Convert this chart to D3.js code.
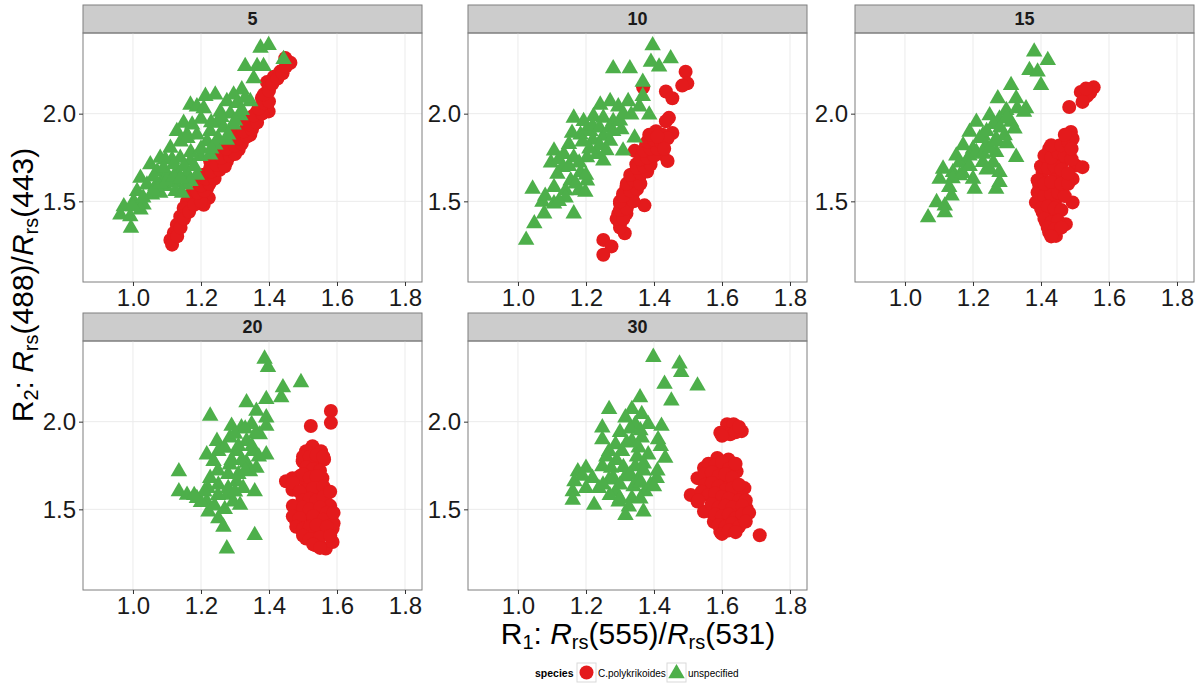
<!DOCTYPE html>
<html>
<head>
<meta charset="utf-8">
<script src="https://cdn.jsdelivr.net/npm/d3@7"></script>
<style>
  body { margin: 0; background: #fff; }
  text { font-family: "Liberation Sans", Arial, sans-serif; }
</style>
</head>
<body>
<div id="chart"></div>
<script>
// facet labels and ticks
var panels = ["5", "10", "15", "20", "30"];
var species = ["C.polykrikoides", "unspecified"];
var xTicks = [1.0, 1.2, 1.4, 1.6, 1.8];
var yTicks = [1.5, 2.0];

// C.polykrikoides (red circles), [R1, R2]
var cp5 = [[1.448,2.317],[1.463,2.29],[1.433,2.24],[1.414,2.21],[1.394,2.18],[1.399,2.146],[1.379,2.09],
  [1.394,2.04],[1.399,2.013],[1.365,2.013],[1.345,1.975],[1.33,1.956],[1.355,1.956],[1.335,1.918],[1.345,1.88],
  [1.32,1.88],[1.296,1.899],[1.306,1.842],[1.262,1.823],[1.286,1.804],[1.311,1.795],[1.267,1.785],[1.247,1.747],
  [1.276,1.728],[1.227,1.728],[1.227,1.69],[1.208,1.652],[1.237,1.652],[1.198,1.614],[1.218,1.576],[1.188,1.557],
  [1.169,1.538],[1.223,1.52],[1.208,1.48],[1.159,1.5],[1.149,1.462],[1.139,1.414],[1.129,1.367],[1.12,1.32],
  [1.11,1.28],[1.115,1.253],
  [1.13,1.3],[1.14,1.35],[1.15,1.4],[1.165,1.44],[1.18,1.48],[1.2,1.5],[1.19,1.55],[1.21,1.56],[1.2,1.59],
  [1.225,1.6],[1.215,1.63],[1.24,1.63],[1.23,1.67],[1.255,1.68],[1.245,1.71],[1.27,1.7],[1.26,1.75],[1.285,1.76],
  [1.3,1.77],[1.275,1.8],[1.3,1.82],[1.32,1.83],[1.31,1.86],[1.335,1.87],[1.325,1.9],[1.35,1.91],[1.34,1.94],
  [1.365,1.95],[1.355,1.99],[1.38,2.0],[1.37,2.03],[1.385,2.06],[1.4,2.07],[1.385,2.11],[1.4,2.13],[1.41,2.17],
  [1.425,2.2],[1.44,2.23],[1.45,2.27]];
var cp10 = [[1.493,2.239],[1.498,2.173],[1.483,2.16],[1.435,2.126],[1.454,2.088],[1.444,1.976],[1.435,1.957],
  [1.454,1.89],[1.386,1.88],[1.406,1.9],[1.425,1.88],[1.377,1.825],[1.425,1.769],[1.415,1.825],[1.343,1.788],
  [1.367,1.769],[1.348,1.712],[1.386,1.731],[1.338,1.656],[1.329,1.618],[1.357,1.637],[1.348,1.6],[1.319,1.58],
  [1.309,1.543],[1.338,1.543],[1.329,1.506],[1.3,1.487],[1.372,1.477],[1.295,1.43],[1.319,1.43],[1.3,1.374],
  [1.314,1.318],[1.251,1.28],[1.275,1.243],[1.251,1.195],[1.368,2.15],
  [1.3,1.35],[1.29,1.4],[1.31,1.4],[1.3,1.45],[1.32,1.46],[1.3,1.5],[1.34,1.5],[1.31,1.53],[1.33,1.56],
  [1.35,1.57],[1.32,1.6],[1.34,1.62],[1.36,1.6],[1.33,1.65],[1.36,1.66],[1.38,1.67],[1.35,1.69],[1.37,1.7],
  [1.39,1.71],[1.36,1.74],[1.38,1.75],[1.4,1.76],[1.37,1.79],[1.39,1.8],[1.41,1.8],[1.38,1.84],[1.4,1.85],
  [1.42,1.84],[1.44,1.86],[1.39,1.88],[1.41,1.87],[1.44,1.73],[1.43,1.8]];
var cp15 = [[1.555,2.15],[1.545,2.12],[1.535,2.1],[1.517,2.124],[1.532,2.143],[1.522,2.067],[1.483,2.038],
  [1.488,1.895],[1.493,1.857],[1.473,1.819],[1.454,1.819],[1.424,1.8],[1.444,1.761],[1.415,1.742],[1.463,1.723],
  [1.502,1.704],[1.522,1.695],[1.434,1.685],[1.405,1.666],[1.444,1.647],[1.493,1.628],[1.395,1.59],[1.4,1.59],
  [1.424,1.571],[1.463,1.571],[1.385,1.494],[1.415,1.494],[1.444,1.513],[1.493,1.494],[1.405,1.437],[1.434,1.418],
  [1.415,1.38],[1.473,1.37],[1.424,1.323],[1.444,1.303],
  [1.39,1.55],[1.41,1.53],[1.43,1.54],[1.45,1.55],[1.47,1.53],[1.39,1.62],[1.41,1.6],[1.43,1.61],[1.46,1.6],
  [1.48,1.6],[1.4,1.7],[1.42,1.69],[1.44,1.7],[1.46,1.68],[1.48,1.66],[1.41,1.76],[1.43,1.75],[1.45,1.78],
  [1.47,1.76],[1.49,1.74],[1.43,1.82],[1.46,1.82],[1.48,1.84],[1.47,1.88],[1.49,1.8],[1.4,1.46],[1.42,1.47],
  [1.44,1.46],[1.46,1.45],[1.41,1.4],[1.43,1.38],[1.45,1.39],[1.42,1.35],[1.44,1.34],[1.46,1.35],[1.43,1.3]];
var cp20 = [[1.582,2.061],[1.582,1.994],[1.523,1.975],[1.528,1.86],[1.509,1.831],[1.553,1.831],[1.499,1.774],
  [1.538,1.755],[1.562,1.784],[1.469,1.678],[1.49,1.688],[1.469,1.611],[1.518,1.716],[1.557,1.678],[1.509,1.64],
  [1.499,1.678],[1.547,1.602],[1.499,1.563],[1.567,1.544],[1.49,1.487],[1.48,1.429],[1.509,1.467],[1.538,1.506],
  [1.582,1.448],[1.587,1.391],[1.548,1.372],[1.509,1.333],[1.538,1.295],[1.567,1.276],[1.587,1.314],[1.499,1.372],
  [1.528,1.429],
  [1.5,1.8],[1.52,1.8],[1.54,1.81],[1.56,1.8],[1.51,1.74],[1.53,1.73],[1.55,1.72],[1.5,1.7],[1.52,1.68],
  [1.54,1.69],[1.45,1.66],[1.47,1.65],[1.51,1.61],[1.53,1.62],[1.56,1.63],[1.49,1.6],[1.5,1.55],[1.52,1.56],
  [1.54,1.55],[1.56,1.57],[1.58,1.52],[1.47,1.52],[1.5,1.51],[1.52,1.5],[1.55,1.51],[1.57,1.48],[1.47,1.46],
  [1.49,1.45],[1.53,1.46],[1.56,1.44],[1.59,1.42],[1.48,1.4],[1.5,1.39],[1.52,1.4],[1.54,1.41],[1.57,1.4],
  [1.5,1.35],[1.52,1.33],[1.55,1.34],[1.58,1.35],[1.53,1.3],[1.55,1.28],[1.59,1.48],[1.58,1.6]];
var cp30 = [[1.615,1.985],[1.634,1.985],[1.658,1.946],[1.595,1.937],[1.624,1.928],[1.547,1.736],[1.586,1.793],
  [1.619,1.784],[1.643,1.716],[1.528,1.678],[1.566,1.678],[1.605,1.716],[1.576,1.621],[1.615,1.64],[1.666,1.621],
  [1.508,1.582],[1.528,1.544],[1.586,1.563],[1.624,1.544],[1.643,1.582],[1.566,1.487],[1.605,1.487],[1.643,1.487],
  [1.672,1.506],[1.547,1.487],[1.576,1.429],[1.595,1.448],[1.595,1.372],[1.624,1.41],[1.663,1.429],[1.711,1.352],
  [1.56,1.76],[1.58,1.75],[1.6,1.77],[1.62,1.73],[1.64,1.76],[1.55,1.7],[1.57,1.71],[1.59,1.69],[1.61,1.7],
  [1.63,1.68],[1.55,1.64],[1.57,1.65],[1.59,1.63],[1.61,1.61],[1.63,1.62],[1.65,1.64],[1.54,1.6],[1.56,1.58],
  [1.58,1.59],[1.6,1.57],[1.62,1.56],[1.65,1.55],[1.67,1.55],[1.53,1.55],[1.57,1.53],[1.59,1.51],[1.61,1.52],
  [1.63,1.51],[1.66,1.52],[1.58,1.47],[1.6,1.46],[1.62,1.47],[1.64,1.45],[1.66,1.47],[1.68,1.48],[1.59,1.41],
  [1.61,1.4],[1.63,1.42],[1.65,1.4],[1.67,1.43],[1.6,1.36],[1.62,1.38],[1.64,1.37],[1.64,1.94],[1.6,1.92],[1.65,1.97]];

// unspecified (green triangles), [R1, R2]
var un5 = [[1.399,2.39],[1.375,2.375],[1.443,2.31],[1.33,2.27],[1.365,2.27],[1.384,2.27],[1.355,2.2],
  [1.32,2.137],[1.296,2.108],[1.213,2.1],[1.242,2.108],[1.169,2.05],[1.188,2.04],[1.208,2.03],[1.276,2.07],
  [1.306,2.06],[1.345,2.07],[1.257,2.01],[1.286,2.0],[1.316,1.99],[1.149,1.947],[1.174,1.937],[1.129,1.9],
  [1.159,1.88],[1.188,1.88],[1.227,1.9],[1.247,1.947],[1.267,1.92],[1.296,1.937],[1.218,1.842],[1.242,1.823],
  [1.276,1.85],[1.11,1.804],[1.08,1.747],[1.115,1.738],[1.139,1.747],[1.095,1.738],[1.169,1.73],[1.198,1.757],
  [1.227,1.766],[1.051,1.71],[1.071,1.67],[1.1,1.65],[1.129,1.67],[1.159,1.66],[1.188,1.65],[1.022,1.633],
  [1.041,1.595],[1.066,1.586],[1.095,1.586],[1.125,1.605],[1.155,1.595],[1.169,1.614],[1.012,1.557],[1.056,1.538],
  [1.08,1.548],[1.125,1.557],[1.144,1.548],[0.973,1.47],[1.002,1.5],[1.031,1.48],[0.963,1.424],[0.992,1.414],
  [1.022,1.452],[0.994,1.348],
  [1.0,1.47],[1.03,1.52],[1.06,1.56],[1.08,1.6],[1.1,1.62],[1.12,1.64],[1.14,1.63],[1.06,1.64],[1.09,1.69],
  [1.12,1.71],[1.15,1.7],[1.18,1.7],[1.17,1.78],[1.2,1.8],[1.23,1.8],[1.25,1.86],[1.28,1.88],[1.3,1.96],
  [1.32,2.02],[1.33,2.09],[1.2,1.97],[1.26,1.98],[1.23,1.95],[1.14,1.84],[1.16,1.86]];
var un10 = [[1.396,2.389],[1.28,2.258],[1.329,2.258],[1.391,2.295],[1.415,2.267],[1.449,2.314],[1.367,2.18],
  [1.367,2.1],[1.242,2.05],[1.271,2.07],[1.295,2.04],[1.324,2.07],[1.357,2.04],[1.386,1.994],[1.333,1.994],
  [1.164,1.976],[1.193,1.957],[1.222,1.985],[1.251,1.976],[1.28,1.957],[1.304,1.91],[1.159,1.89],[1.184,1.88],
  [1.213,1.9],[1.251,1.872],[1.271,1.844],[1.343,1.863],[1.309,1.788],[1.15,1.825],[1.106,1.788],[1.135,1.769],
  [1.097,1.72],[1.13,1.694],[1.164,1.75],[1.203,1.75],[1.251,1.731],[1.232,1.769],[1.184,1.665],[1.203,1.618],
  [1.155,1.618],[1.116,1.656],[1.106,1.58],[1.14,1.562],[1.179,1.562],[1.198,1.553],[1.043,1.571],[1.072,1.496],
  [1.106,1.487],[1.077,1.43],[1.164,1.43],[1.048,1.374],[1.024,1.28],
  [1.2,1.9],[1.22,1.93],[1.24,1.92],[1.27,1.92],[1.19,1.84],[1.22,1.85],[1.24,1.82],[1.28,1.9],[1.3,1.96],
  [1.31,2.0],[1.18,1.72],[1.15,1.7],[1.12,1.74],[1.2,1.65],[1.17,1.6],[1.14,1.52],[1.12,1.5],[1.08,1.53],
  [1.21,1.8],[1.26,1.79]];
var un15 = [[1.38,2.353],[1.42,2.305],[1.366,2.248],[1.39,2.239],[1.4,2.162],[1.312,2.162],[1.273,2.086],
  [1.327,2.086],[1.356,2.029],[1.298,2.019],[1.249,1.99],[1.21,1.952],[1.278,1.971],[1.312,1.952],[1.322,1.914],
  [1.19,1.895],[1.229,1.876],[1.268,1.857],[1.293,1.876],[1.171,1.819],[1.2,1.8],[1.239,1.819],[1.268,1.78],
  [1.327,1.752],[1.151,1.76],[1.18,1.723],[1.229,1.723],[1.112,1.685],[1.141,1.666],[1.161,1.647],[1.2,1.628],
  [1.249,1.685],[1.278,1.666],[1.102,1.628],[1.205,1.571],[1.268,1.571],[1.278,1.609],[1.137,1.532],[1.093,1.494],
  [1.117,1.475],[1.117,1.437],[1.068,1.408],
  [1.16,1.72],[1.19,1.76],[1.21,1.78],[1.23,1.77],[1.25,1.8],[1.22,1.86],[1.24,1.9],[1.26,1.94],[1.28,1.92],
  [1.3,1.98],[1.33,2.03],[1.35,2.01],[1.27,1.84],[1.3,1.83],[1.14,1.63],[1.17,1.66],[1.13,1.58],[1.26,1.72],
  [1.24,1.68],[1.19,1.7]];
var un20 = [[1.387,2.358],[1.397,2.31],[1.441,2.195],[1.494,2.224],[1.436,2.138],[1.334,2.109],[1.392,2.128],
  [1.227,2.033],[1.363,2.061],[1.392,2.023],[1.29,1.975],[1.319,1.966],[1.349,1.985],[1.392,1.975],[1.247,1.889],
  [1.285,1.908],[1.334,1.889],[1.373,1.927],[1.217,1.812],[1.251,1.831],[1.305,1.831],[1.353,1.831],[1.392,1.812],
  [1.237,1.774],[1.285,1.755],[1.334,1.764],[1.363,1.736],[1.344,1.716],[1.135,1.716],[1.227,1.678],[1.251,1.64],
  [1.305,1.659],[1.324,1.621],[1.358,1.602],[1.135,1.602],[1.159,1.582],[1.188,1.563],[1.217,1.544],[1.276,1.582],
  [1.295,1.544],[1.315,1.525],[1.222,1.487],[1.251,1.448],[1.266,1.4],[1.358,1.352],[1.276,1.276],
  [1.3,1.93],[1.33,1.96],[1.36,1.93],[1.27,1.85],[1.31,1.86],[1.35,1.86],[1.37,1.8],[1.29,1.78],[1.32,1.78],
  [1.25,1.72],[1.28,1.7],[1.31,1.7],[1.33,1.72],[1.22,1.62],[1.25,1.58],[1.28,1.62],[1.3,1.6],[1.2,1.54],
  [1.24,1.52],[1.27,1.5],[1.21,1.6],[1.18,1.58]];
var un30 = [[1.398,2.368],[1.475,2.33],[1.48,2.282],[1.431,2.215],[1.528,2.205],[1.451,2.119],[1.268,2.071],
  [1.359,2.138],[1.335,2.071],[1.316,2.023],[1.364,2.042],[1.383,1.985],[1.248,1.966],[1.345,1.985],[1.422,1.975],
  [1.248,1.898],[1.287,1.87],[1.335,1.889],[1.364,1.908],[1.412,1.898],[1.268,1.831],[1.306,1.831],[1.355,1.851],
  [1.383,1.812],[1.433,1.793],[1.2,1.736],[1.176,1.716],[1.248,1.745],[1.274,1.736],[1.345,1.745],[1.166,1.659],
  [1.219,1.678],[1.268,1.669],[1.316,1.688],[1.355,1.678],[1.408,1.678],[1.161,1.602],[1.238,1.621],[1.287,1.602],
  [1.374,1.602],[1.161,1.554],[1.224,1.525],[1.296,1.544],[1.335,1.563],[1.326,1.515],[1.316,1.467],[1.369,1.487],
  [1.3,1.94],[1.33,1.96],[1.36,1.95],[1.32,1.88],[1.35,1.8],[1.37,1.76],[1.29,1.78],[1.26,1.8],[1.31,1.74],
  [1.33,1.7],[1.37,1.72],[1.28,1.68],[1.3,1.64],[1.34,1.63],[1.36,1.65],[1.39,1.64],[1.25,1.64],[1.2,1.62],
  [1.19,1.69],[1.27,1.58],[1.3,1.56],[1.36,1.56],[1.4,1.63],[1.41,1.72],[1.42,1.86]];

var cpData = [cp5, cp10, cp15, cp20, cp30];
var unData = [un5, un10, un15, un20, un30];

var red = "#E41A1C", green = "#4DAF4A";
var W = 1200, H = 700;
var colX = [83, 468, 855], rowY = [5, 313];
var pw = 339, stripH = 28, ph = 249;

var svg = d3.select("#chart").append("svg")
  .attr("width", W)
  .attr("height", H);

var x = d3.scaleLinear().domain([0.853, 1.85]).range([0, pw]);
var y = d3.scaleLinear().domain([1.04, 2.46]).range([ph, 0]);

var tri = d3.symbol().type(d3.symbolTriangle).size(118);

panels.forEach(function(p, i) {
  var g = svg.append("g")
    .attr("transform", "translate(" + colX[i % 3] + "," + rowY[Math.floor(i / 3)] + ")");

  // strip
  g.append("rect")
    .attr("width", pw).attr("height", stripH)
    .attr("fill", "#cccccc").attr("stroke", "#7f7f7f");
  g.append("text")
    .attr("x", pw / 2).attr("y", stripH / 2 + 6)
    .attr("text-anchor", "middle")
    .attr("font-size", 18).attr("font-weight", "bold")
    .attr("fill", "#1a1a1a")
    .text(p);

  var plot = g.append("g").attr("transform", "translate(0," + stripH + ")");

  // grid
  plot.selectAll(".vg").data(xTicks).enter().append("line")
    .attr("x1", d => x(d)).attr("x2", d => x(d))
    .attr("y1", 0).attr("y2", ph)
    .attr("stroke", "#ebebeb");
  plot.selectAll(".hg").data(yTicks).enter().append("line")
    .attr("x1", 0).attr("x2", pw)
    .attr("y1", d => y(d)).attr("y2", d => y(d))
    .attr("stroke", "#ebebeb");

  // points
  plot.selectAll(".cp").data(cpData[i]).enter().append("circle")
    .attr("cx", d => x(d[0])).attr("cy", d => y(d[1]))
    .attr("r", 7).attr("fill", red);
  plot.selectAll(".un").data(unData[i]).enter().append("path")
    .attr("d", tri)
    .attr("transform", d => "translate(" + x(d[0]) + "," + y(d[1]) + ")")
    .attr("fill", green);

  // border
  plot.append("rect")
    .attr("width", pw).attr("height", ph)
    .attr("fill", "none").attr("stroke", "#7f7f7f");

  // axes
  var xa = plot.append("g")
    .attr("transform", "translate(0," + ph + ")")
    .call(d3.axisBottom(x).tickValues(xTicks).tickFormat(d3.format(".1f")).tickSize(4).tickPadding(3));
  var ya = plot.append("g")
    .call(d3.axisLeft(y).tickValues(yTicks).tickFormat(d3.format(".1f")).tickSize(4).tickPadding(3));
  [xa, ya].forEach(function(a) {
    a.select(".domain").remove();
    a.selectAll("line").attr("stroke", "#333");
    a.selectAll("text")
      .attr("font-size", 24)
      .attr("font-family", "'Liberation Sans', Arial, sans-serif")
      .attr("fill", "#1a1a1a");
  });
});

// x axis title
var xt = svg.append("text")
  .attr("x", 638).attr("y", 644)
  .attr("text-anchor", "middle")
  .attr("font-size", 30)
  .attr("fill", "#000");
xt.append("tspan").text("R");
xt.append("tspan").attr("font-size", 20).attr("dy", 5).text("1");
xt.append("tspan").attr("dy", -5).text(": ");
xt.append("tspan").attr("font-style", "italic").text("R");
xt.append("tspan").attr("font-size", 20).attr("dy", 5).text("rs");
xt.append("tspan").attr("dy", -5).text("(555)/");
xt.append("tspan").attr("font-style", "italic").text("R");
xt.append("tspan").attr("font-size", 20).attr("dy", 5).text("rs");
xt.append("tspan").attr("dy", -5).text("(531)");

// y axis title
var yt = svg.append("text")
  .attr("transform", "translate(33,285) rotate(-90)")
  .attr("text-anchor", "middle")
  .attr("font-size", 30)
  .attr("fill", "#000");
yt.append("tspan").text("R");
yt.append("tspan").attr("font-size", 20).attr("dy", 5).text("2");
yt.append("tspan").attr("dy", -5).text(": ");
yt.append("tspan").attr("font-style", "italic").text("R");
yt.append("tspan").attr("font-size", 20).attr("dy", 5).text("rs");
yt.append("tspan").attr("dy", -5).text("(488)/");
yt.append("tspan").attr("font-style", "italic").text("R");
yt.append("tspan").attr("font-size", 20).attr("dy", 5).text("rs");
yt.append("tspan").attr("dy", -5).text("(443)");

// legend
var lg = svg.append("g").attr("transform", "translate(535,663)");
lg.append("text")
  .attr("x", 0).attr("y", 14)
  .attr("font-size", 10.5).attr("font-weight", "bold")
  .text("species");
var keys = [
  {label: species[0], kx: 42, tx: 63, shape: "circle", color: red},
  {label: species[1], kx: 132, tx: 153, shape: "triangle", color: green}
];
keys.forEach(function(k) {
  lg.append("rect")
    .attr("x", k.kx).attr("y", 0).attr("width", 19).attr("height", 19)
    .attr("fill", "#fff").attr("stroke", "#d9d9d9");
  if (k.shape === "circle") {
    lg.append("circle").attr("cx", k.kx + 9.5).attr("cy", 9.5).attr("r", 7).attr("fill", k.color);
  } else {
    lg.append("path").attr("d", tri)
      .attr("transform", "translate(" + (k.kx + 9.5) + ",10.5)")
      .attr("fill", k.color);
  }
  lg.append("text")
    .attr("x", k.tx).attr("y", 14)
    .attr("font-size", 10)
    .text(k.label);
});
</script>
</body>
</html>
